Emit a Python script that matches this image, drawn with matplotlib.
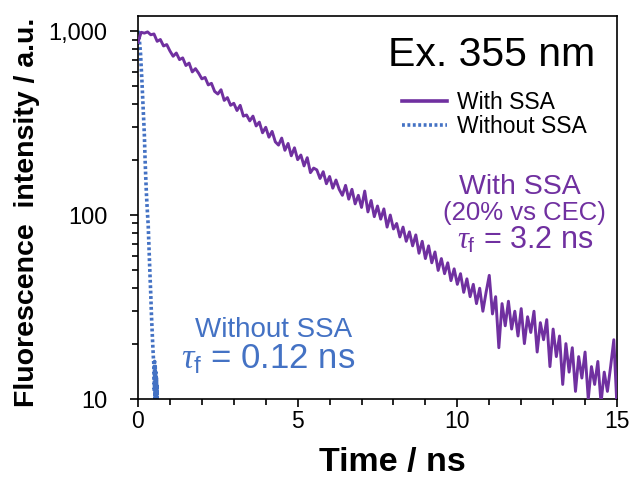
import numpy as np
import matplotlib
matplotlib.use("Agg")
import matplotlib.pyplot as plt
from matplotlib.ticker import FixedLocator, MultipleLocator, LogLocator, NullFormatter

plt.rcParams['font.family'] = ['Liberation Sans', 'DejaVu Sans']
plt.rcParams['mathtext.fontset'] = 'custom'
plt.rcParams['mathtext.rm'] = 'Liberation Sans'
plt.rcParams['mathtext.it'] = 'Liberation Serif:italic'
plt.rcParams['mathtext.bf'] = 'Liberation Sans:bold'

# ---- data ----
with_ssa_t0 = 0.0
with_ssa_dt = 0.1
with_ssa = [
    870, 985, 975, 990, 955, 965, 880, 900, 830, 845,
    780, 730, 760, 700, 715, 650, 670, 600, 625, 590,
    550, 560, 510, 520, 470, 455, 480, 420, 435, 395,
    405, 370, 395, 345, 350, 325, 345, 305, 320, 280,
    300, 265, 285, 250, 240, 262, 225, 245, 210, 232,
    200, 212, 185, 205, 170, 180, 176, 158, 172, 148,
    162, 140, 155, 138, 128, 145, 122, 138, 115, 128,
    110, 135, 104, 120, 98, 112, 95, 108, 86, 100,
    84, 90, 76, 86, 72, 81, 68, 78, 62, 72,
    58, 68, 55, 63, 50, 58, 48, 55, 44, 51,
    42, 48, 38, 45, 36, 42, 33, 40, 30, 38,
    47, 29, 36, 19, 33, 25, 34, 24, 30, 22,
    31, 20, 28, 23, 30, 18, 26, 21, 27, 15,
    24, 17, 22, 12, 20, 14, 19, 11, 17, 13,
    18, 10, 15, 12, 16, 9.5, 14, 11, 15, 21,
    9,
]
with_ssa_time = [round(with_ssa_t0 + i * with_ssa_dt, 3) for i in range(len(with_ssa))]

without_ssa_time = [0.00, 0.02, 0.04, 0.06, 0.08, 0.10, 0.12, 0.14, 0.16, 0.18,
                    0.20, 0.22, 0.24, 0.26, 0.28, 0.30, 0.32, 0.34, 0.36, 0.38,
                    0.40, 0.42, 0.44, 0.46, 0.48, 0.50, 0.51, 0.52, 0.53, 0.54,
                    0.55, 0.56, 0.57, 0.58, 0.59, 0.60, 0.61]
without_ssa = [1000, 980, 900, 830, 750, 640, 550, 460, 385, 325,
               270, 205, 165, 135, 115, 100, 88, 70, 56, 45,
               37, 29, 24, 20, 17, 15, 11, 16, 10, 15,
               9, 14, 8, 13, 7, 12, 5]

x_ticks = [0, 5, 10, 15]
x_tick_labels = ["0", "5", "10", "15"]
y_ticks = [10, 100, 1000]
y_tick_labels = ["10", "100", "1,000"]

purple = "#7030A0"
blue = "#4472C4"

fig = plt.figure(figsize=(6.36, 4.8), dpi=100)
ax = fig.add_axes([138/636, 1-399/480, 479/636, 383/480])

ax.plot(with_ssa_time, with_ssa, color=purple, lw=2.1, label="With SSA", zorder=3)
ax.plot(without_ssa_time, without_ssa, color=blue, lw=2.6, linestyle=(0, (0.8, 0.7)),
        label="Without SSA", zorder=2)

ax.set_yscale('log')
ax.set_xlim(0, 15)
ax.set_ylim(10, 1208)

ax.xaxis.set_major_locator(FixedLocator(x_ticks))
ax.xaxis.set_minor_locator(MultipleLocator(1))
ax.yaxis.set_major_locator(FixedLocator(y_ticks))
ax.yaxis.set_minor_locator(LogLocator(base=10, subs=np.arange(2, 10)))
ax.yaxis.set_minor_formatter(NullFormatter())
ax.set_xticklabels(x_tick_labels, fontsize=16.5)
ax.set_yticklabels(y_tick_labels, fontsize=17)

for s in ax.spines.values():
    s.set_linewidth(1.2)
ax.tick_params(axis='both', which='major', direction='out', length=6, width=1.2,
               colors='black')
ax.tick_params(axis='both', which='minor', direction='out', length=4.5, width=1.2)
ax.yaxis.set_tick_params(which='major', pad=16)
ax.xaxis.set_tick_params(which='major', pad=2)

ax.set_xlabel("Time / ns", fontsize=24.5, fontweight='bold')
ax.set_ylabel("Fluorescence  intensity / a.u.", fontsize=20.5, fontweight='bold')
ax.xaxis.set_label_coords(0.532, -0.125)
ax.yaxis.set_label_coords(-0.205, 0.486)

ax.text(0.739, 0.898, "Ex. 355 nm", transform=ax.transAxes, fontsize=29.5,
        ha='center', va='center', color='black')

leg = ax.legend(loc='upper left', bbox_to_anchor=(0.551, 0.805), frameon=False,
                fontsize=16.5, handlelength=1.96, handletextpad=0.44,
                labelspacing=0.05, borderpad=0, borderaxespad=0)
for h in leg.get_lines():
    h.set_linewidth(2.6)

ax.text(0.797, 0.554, "With SSA", transform=ax.transAxes, fontsize=20.5,
        ha='center', va='center', color=purple)
ax.text(0.806, 0.486, "(20% vs CEC)", transform=ax.transAxes, fontsize=18.5,
        ha='center', va='center', color=purple)
ax.text(0.808, 0.415, r"$\tau_\mathrm{f}$ = 3.2 ns", transform=ax.transAxes, fontsize=22,
        ha='center', va='center', color=purple)
ax.text(0.284, 0.180, "Without SSA", transform=ax.transAxes, fontsize=20,
        ha='center', va='center', color=blue)
ax.text(0.272, 0.102, r"$\tau_\mathrm{f}$ = 0.12 ns", transform=ax.transAxes, fontsize=25,
        ha='center', va='center', color=blue)

fig.savefig("out.png", dpi=100)
